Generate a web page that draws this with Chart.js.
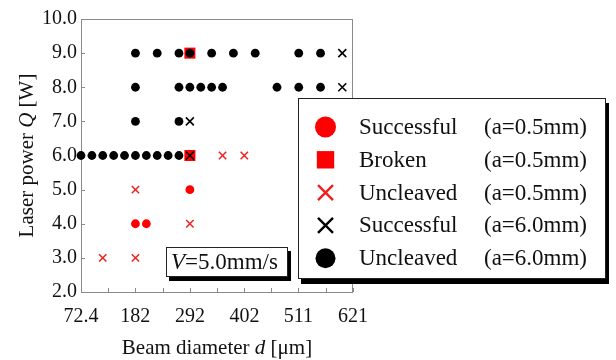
<!DOCTYPE html>
<html>
<head>
<meta charset="utf-8">
<script src="https://cdn.jsdelivr.net/npm/chart.js@4.4.1/dist/chart.umd.min.js"></script>
<style>
  body { margin: 0; background: #fff; }
</style>
</head>
<body>
<canvas id="mainChart" width="616" height="360"></canvas>
<script>
// axis ticks
const xTicks = [72.4, 182, 292, 402, 511, 621];
const yTicks = [2, 3, 4, 5, 6, 7, 8, 9, 10];

// a=0.5mm
const succ05X = [292.0, 182.2, 204.2];
const succ05Y = [5, 4, 4];
const broken05X = [292.0, 292.0];
const broken05Y = [9, 6];
const uncl05X = [182.2, 292.0, 357.9, 401.8, 116.3, 182.2];
const uncl05Y = [5, 4, 6, 6, 3, 3];

// a=6.0mm
const succ60X = [599.4, 599.4, 292.0, 292.0];
const succ60Y = [9, 8, 7, 6];
const uncl60X = [
  182.2, 226.1, 270.0, 292.0, 335.9, 379.8, 423.8, 511.6, 555.5,
  182.2, 270.0, 292.0, 314.0, 335.9, 357.9, 467.7, 511.6, 555.5,
  182.2, 270.0,
  72.4, 94.4, 116.3, 138.3, 160.2, 182.2, 204.2, 226.1, 248.1, 270.0,
];
const uncl60Y = [
  9, 9, 9, 9, 9, 9, 9, 9, 9,
  8, 8, 8, 8, 8, 8, 8, 8, 8,
  7, 7,
  6, 6, 6, 6, 6, 6, 6, 6, 6, 6,
];

const seriesNames = ["Successful", "Broken", "Uncleaved", "Successful", "Uncleaved"];
const seriesNotes = ["(a=0.5mm)", "(a=0.5mm)", "(a=0.5mm)", "(a=6.0mm)", "(a=6.0mm)"];

const RED = "#ff0000";
const RED_X = "#ee2020";
const SERIF = "'Liberation Serif', 'Times New Roman', serif";

const pts = (xs, ys) => xs.map((x, i) => ({ x: x, y: ys[i] }));

const datasets = [
  { label: seriesNames[0], data: pts(succ05X, succ05Y), pointStyle: "circle", pointRadius: 4.4,
    backgroundColor: RED, borderColor: RED, borderWidth: 0, order: 2 },
  { label: seriesNames[1], data: pts(broken05X, broken05Y), pointStyle: "rect", pointRadius: 7.8,
    backgroundColor: RED, borderColor: RED, borderWidth: 0, order: 5 },
  { label: seriesNames[2], data: pts(uncl05X, uncl05Y), pointStyle: "crossRot", pointRadius: 5.2,
    backgroundColor: RED_X, borderColor: RED_X, borderWidth: 1.5, order: 3 },
  { label: seriesNames[3], data: pts(succ60X, succ60Y), pointStyle: "crossRot", pointRadius: 5.6,
    backgroundColor: "#000", borderColor: "#000", borderWidth: 1.6, order: 1 },
  { label: seriesNames[4], data: pts(uncl60X, uncl60Y), pointStyle: "circle", pointRadius: 4.4,
    backgroundColor: "#000", borderColor: "#000", borderWidth: 0, order: 1 },
];
datasets.forEach((d) => { d.showLine = false; d.clip = false; d.pointHoverRadius = d.pointRadius; });

// text with italic parts, segs = [[text, italic], ...]
function richText(ctx, segs, size, cx, cy, align) {
  const widths = segs.map(([t, it]) => {
    ctx.font = (it ? "italic " : "") + size + "px " + SERIF;
    return ctx.measureText(t).width;
  });
  const total = widths.reduce((a, b) => a + b, 0);
  let x = align === "left" ? cx : cx - total / 2;
  ctx.textAlign = "left";
  ctx.textBaseline = "middle";
  segs.forEach(([t, it], i) => {
    ctx.font = (it ? "italic " : "") + size + "px " + SERIF;
    ctx.fillText(t, x, cy);
    x += widths[i];
  });
}

function marker(ctx, style, color, x, y, s) {
  ctx.save();
  ctx.fillStyle = color;
  ctx.strokeStyle = color;
  if (style === "circle") {
    ctx.beginPath();
    ctx.arc(x, y, s, 0, Math.PI * 2);
    ctx.fill();
  } else if (style === "rect") {
    ctx.fillRect(x - s, y - s, 2 * s, 2 * s);
  } else {
    ctx.lineWidth = 2.4;
    ctx.beginPath();
    ctx.moveTo(x - s, y - s); ctx.lineTo(x + s, y + s);
    ctx.moveTo(x + s, y - s); ctx.lineTo(x - s, y + s);
    ctx.stroke();
  }
  ctx.restore();
}

const framePlugin = {
  id: "frame",
  beforeDatasetsDraw(chart) {
    const { ctx, chartArea: a, scales } = chart;
    ctx.save();
    ctx.strokeStyle = "#8a8a8a";
    ctx.lineWidth = 1;
    ctx.strokeRect(a.left + 0.5, a.top + 0.5, a.right - a.left - 1, a.bottom - a.top);
    ctx.beginPath();
    // inward ticks, x: majors and midpoints
    const xs = [];
    xTicks.forEach((v, i) => {
      xs.push(v);
      if (i < xTicks.length - 1) xs.push((v + xTicks[i + 1]) / 2);
    });
    xs.forEach((v) => {
      const px = Math.round(scales.x.getPixelForValue(v)) + 0.5;
      ctx.moveTo(px, a.bottom);
      ctx.lineTo(px, a.bottom - 4);
    });
    yTicks.forEach((v) => {
      const py = Math.round(scales.y.getPixelForValue(v)) + 0.5;
      ctx.moveTo(a.left, py);
      ctx.lineTo(a.left + 4, py);
    });
    ctx.stroke();
    ctx.restore();
  },
  afterDraw(chart) {
    const { ctx, chartArea: a } = chart;
    ctx.save();
    ctx.fillStyle = "#111";
    // axis titles
    richText(ctx, [["Beam diameter ", false], ["d", true], [" [\u03bcm]", false]], 21, (a.left + a.right) / 2, 348);
    ctx.save();
    ctx.translate(27, (a.top + a.bottom) / 2);
    ctx.rotate(-Math.PI / 2);
    richText(ctx, [["Laser power ", false], ["Q", true], [" [W]", false]], 21, 0, 0);
    ctx.restore();

    // speed note box
    const vb = { x: a.left + 85, y: 247, w: 122, h: 30 };
    ctx.fillStyle = "#000";
    ctx.fillRect(vb.x + 3, vb.y + 4, vb.w, vb.h);
    ctx.fillStyle = "#fff";
    ctx.fillRect(vb.x, vb.y, vb.w, vb.h);
    ctx.strokeStyle = "#222";
    ctx.lineWidth = 1;
    ctx.strokeRect(vb.x + 0.5, vb.y + 0.5, vb.w - 1, vb.h - 1);
    ctx.fillStyle = "#111";
    richText(ctx, [["V", true], ["=5.0mm/s", false]], 23, vb.x + 5, vb.y + vb.h / 2 + 1, "left");

    // legend box
    const lb = { x: 298, y: 98, w: 308, h: 181 };
    ctx.fillStyle = "#000";
    ctx.fillRect(lb.x + 3, lb.y + 5, lb.w, lb.h);
    ctx.fillStyle = "#fff";
    ctx.fillRect(lb.x, lb.y, lb.w, lb.h);
    ctx.strokeStyle = "#222";
    ctx.strokeRect(lb.x + 0.5, lb.y + 0.5, lb.w - 1, lb.h - 1);
    const sizes = [10.5, 8.7, 7.5, 7.5, 10];
    chart.data.datasets.forEach((ds, i) => {
      const y = 127 + i * 32.8;
      marker(ctx, ds.pointStyle, ds.backgroundColor, 325.5, y, sizes[i]);
      ctx.fillStyle = "#111";
      ctx.font = "23px " + SERIF;
      ctx.textAlign = "left";
      ctx.textBaseline = "middle";
      ctx.fillText(seriesNames[i], 359, y + 1);
      ctx.fillText(seriesNotes[i], 484, y + 1);
    });
    ctx.restore();
  },
};

const tickFont = { family: SERIF, size: 20 };

new Chart(document.getElementById("mainChart"), {
  type: "scatter",
  data: { datasets: datasets },
  options: {
    responsive: false,
    animation: false,
    layout: { padding: { left: 0, top: 19, right: 263, bottom: 0 } },
    plugins: {
      legend: { display: false },
      tooltip: { enabled: false },
    },
    scales: {
      x: {
        type: "linear",
        min: 72.4,
        max: 621,
        afterBuildTicks: (s) => { s.ticks = xTicks.map((v) => ({ value: v })); },
        afterFit: (s) => { s.height = 68; },
        ticks: { font: tickFont, color: "#111", padding: 13, autoSkip: false, maxRotation: 0,
          callback: (v) => String(v) },
        grid: { display: false, drawTicks: false },
        border: { display: false },
      },
      y: {
        min: 2,
        max: 10,
        afterBuildTicks: (s) => { s.ticks = yTicks.map((v) => ({ value: v })); },
        afterFit: (s) => { s.width = 81; },
        ticks: { font: tickFont, color: "#111", padding: 4, autoSkip: false,
          callback: (v) => Number(v).toFixed(1) },
        grid: { display: false, drawTicks: false },
        border: { display: false },
      },
    },
  },
  plugins: [framePlugin],
});
</script>
</body>
</html>
